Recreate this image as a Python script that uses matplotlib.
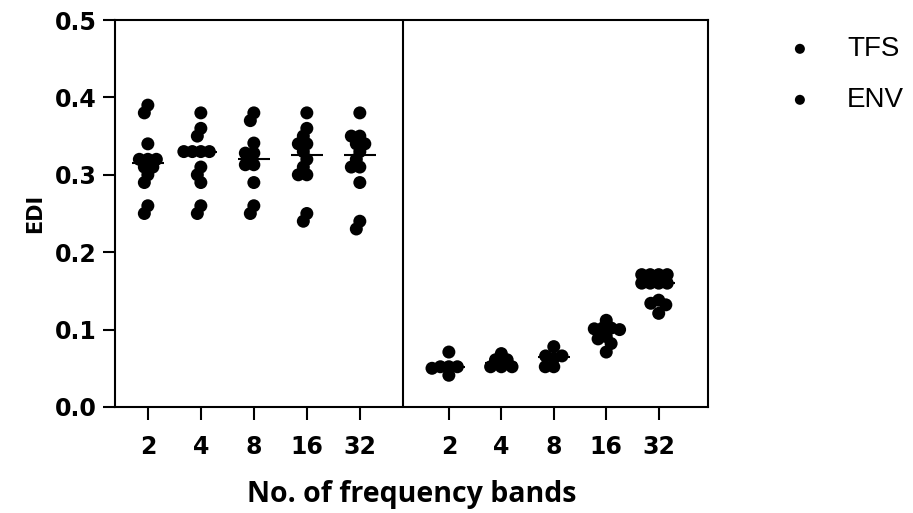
import numpy as np
import matplotlib.pyplot as plt

# frequency bands (x tick labels, same for both groups)
bands = ['2', '4', '8', '16', '32']

# TFS group values (EDI)
tfs_2 = [0.39, 0.38, 0.34, 0.32, 0.32, 0.32, 0.31, 0.31, 0.30, 0.29, 0.26, 0.25]
tfs_4 = [0.38, 0.36, 0.35, 0.33, 0.33, 0.33, 0.33, 0.31, 0.30, 0.29, 0.26, 0.25]
tfs_8 = [0.38, 0.37, 0.341, 0.328, 0.328, 0.313, 0.313, 0.29, 0.26, 0.25]
tfs_16 = [0.38, 0.36, 0.35, 0.34, 0.34, 0.33, 0.32, 0.31, 0.30, 0.30, 0.25, 0.24]
tfs_32 = [0.38, 0.35, 0.35, 0.34, 0.34, 0.33, 0.32, 0.31, 0.31, 0.29, 0.24, 0.23]

# ENV group values (EDI)
env_2 = [0.071, 0.052, 0.052, 0.052, 0.050, 0.041]
env_4 = [0.069, 0.061, 0.061, 0.052, 0.052, 0.052]
env_8 = [0.063, 0.078, 0.066, 0.066, 0.052, 0.052]
env_16 = [0.112, 0.102, 0.102, 0.101, 0.100, 0.091, 0.088, 0.082, 0.071]
env_32 = [0.171, 0.171, 0.171, 0.171, 0.160, 0.160, 0.160, 0.160, 0.138, 0.134, 0.132, 0.121]

tfs = [tfs_2, tfs_4, tfs_8, tfs_16, tfs_32]
env = [env_2, env_4, env_8, env_16, env_32]

W, H = 913, 513
fig = plt.figure(figsize=(W / 100, H / 100), dpi=100)
ax = fig.add_axes([115 / W, 106 / H, 593 / W, 387 / H])

xmin, xmax = -0.62, 10.57
ymin, ymax = 0.0, 0.5
ax.set_xlim(xmin, xmax)
ax.set_ylim(ymin, ymax)

# pixels per data unit, used to lay out the dots like a beeswarm
sx = 593 / (xmax - xmin)
sy = 387 / (ymax - ymin)
dot = 13.0  # dot diameter in px
gap = 8.5   # min centre distance in px (dots may overlap a bit)


def swarm(vals, d):
    placed = []
    offs = []
    for v in vals:
        y = v * sy
        cands = [0.0]
        for px, py in placed:
            dy = y - py
            if abs(dy) < d:
                dx = np.sqrt(d * d - dy * dy)
                cands += [px + dx, px - dx]
        cands.sort(key=lambda c: (abs(c), c))
        for c in cands:
            if all((c - px) ** 2 + (y - py) ** 2 >= d * d - 1e-6 for px, py in placed):
                break
        placed.append((c, y))
        offs.append(c / sx)
    return np.array(offs)


pos_tfs = np.arange(5)
pos_env = 5.68 + np.arange(5) * 0.99

ms = dot * 72 / 100
for pos_list, groups, lab in [(pos_tfs, tfs, 'TFS'), (pos_env, env, 'ENV')]:
    for i, (p, vals) in enumerate(zip(pos_list, groups)):
        vals = np.array(vals)
        x = p + swarm(vals, gap)
        ax.scatter(x, vals, s=ms ** 2, color='black', edgecolors='none',
                   zorder=3, clip_on=False, label=lab if i == 0 else None)
        ax.hlines(np.median(vals), p - 0.3, p + 0.3, color='black', lw=1.5, zorder=4)

# divider between the two groups
ax.axvline(4.81, color='black', lw=1.5)

for s in ax.spines.values():
    s.set_linewidth(1.5)

ax.set_xticks(np.concatenate([pos_tfs, pos_env]))
ax.set_xticklabels(bands + bands)
ax.set_yticks([0.0, 0.1, 0.2, 0.3, 0.4, 0.5])
ax.set_yticklabels(['0.0', '0.1', '0.2', '0.3', '0.4', '0.5'])
ax.tick_params(direction='out', length=9, width=1.5)
ax.tick_params(axis='x', pad=11)
ax.tick_params(axis='y', pad=4)
for t in ax.get_xticklabels() + ax.get_yticklabels():
    t.set_fontfamily('DejaVu Sans')
    t.set_fontweight('bold')
    t.set_fontsize(17)

ax.set_ylabel('EDI', fontfamily='DejaVu Sans', fontweight='bold', fontsize=15, labelpad=7)
ax.set_xlabel('No. of frequency bands', fontfamily='Open Sans', fontweight='bold',
              fontsize=20.5, labelpad=15)

fig.legend(loc='upper left', bbox_to_anchor=(761 / W, 1 - 25 / H), frameon=False,
           borderaxespad=0, prop={'family': 'Liberation Sans', 'size': 20},
           handletextpad=0.7, labelspacing=0.9, markerscale=0.77)

plt.savefig('out.png', dpi=100)
